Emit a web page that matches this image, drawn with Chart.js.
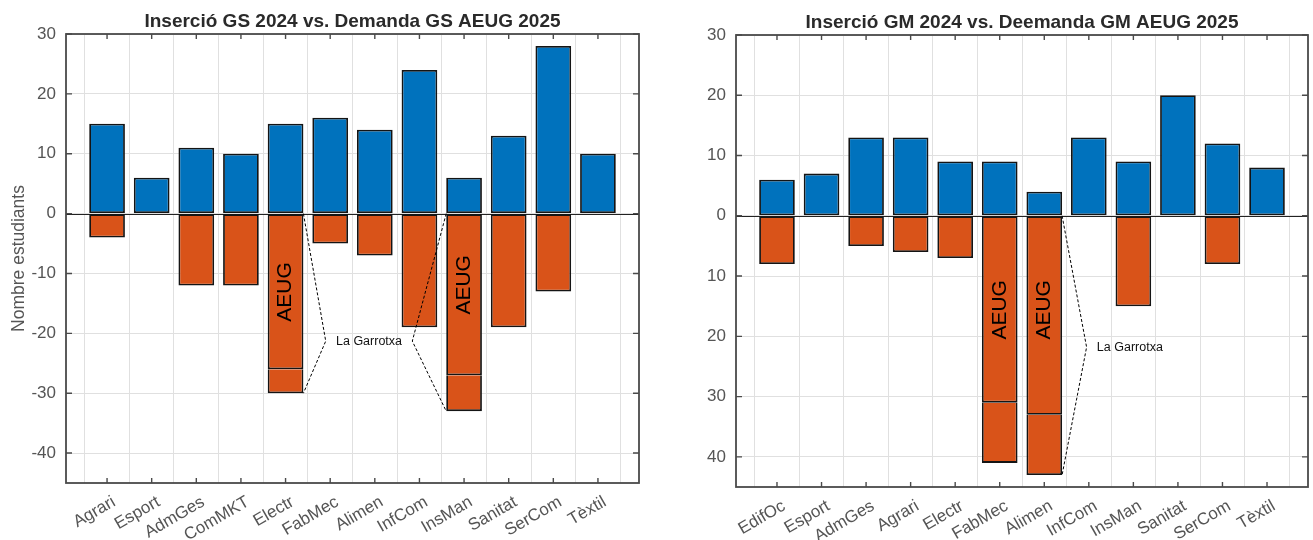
<!DOCTYPE html>
<html><head><meta charset="utf-8">
<script src="https://cdn.jsdelivr.net/npm/chart.js@4.4.1/dist/chart.umd.min.js"></script>
<style>
html,body{margin:0;padding:0;background:#fff;width:1313px;height:540px;overflow:hidden}
.box{position:absolute;top:0;height:540px}
#b1{left:0;width:660px}
#b2{left:660px;width:653px}
</style></head><body>
<div class="box" id="b1"><canvas id="c1"></canvas></div>
<div class="box" id="b2"><canvas id="c2"></canvas></div>
<script>
// ---- Data: GS (left chart)
const categoriesGS = ['Agrari','Esport','AdmGes','ComMKT','Electr','FabMec','Alimen','InfCom','InsMan','Sanitat','SerCom','Tèxtil'];
const insercioGS   = [15, 6, 11, 10, 15, 16, 14, 24, 6, 13, 28, 10];
const demandaGS    = [-4, 0, -12, -12, -30, -5, -7, -19, -33, -19, -13, 0];
const aeugGS       = [null, null, null, null, -26, null, null, null, -27, null, null, null];

// ---- Data: GM (right chart)
const categoriesGM = ['EdifOc','Esport','AdmGes','Agrari','Electr','FabMec','Alimen','InfCom','InsMan','Sanitat','SerCom','Tèxtil'];
const insercioGM   = [6, 7, 13, 13, 9, 9, 4, 13, 9, 20, 12, 8];
const demandaGM    = [-8, 0, -5, -6, -7, -41, -43, 0, -15, 0, -8, 0];
const aeugGM       = [null, null, null, null, null, -31, -33, null, null, null, null, null];

const yTickValues = [-40, -30, -20, -10, 0, 10, 20, 30];

const FONT = '"Liberation Sans", Arial, sans-serif';
const BLUE = '#0072BD', ORANGE = '#D95319', EDGE = '#141414';
const FRAME = '#4a4a4a', GRID = '#e0e0e0', TXT = '#555555';

function buildChart(id, o) {
  const W = o.width, H = 540;
  const toPts = arr => arr.map((v, i) => ({x: i + 1, y: (v === 0 || v === null) ? null : v}));
  const seg1 = o.dem.map((v, i) => o.aeug[i] != null ? o.aeug[i] : v);
  const seg2 = o.dem.map((v, i) => o.aeug[i] != null ? v - o.aeug[i] : null);

  const deco = {
    id: 'deco' + id,
    beforeDatasetsDraw(chart) {
      const {ctx, chartArea: a, scales: {y}} = chart;
      ctx.save();
      ctx.strokeStyle = '#222'; ctx.lineWidth = 1.2;
      const y0 = Math.round(y.getPixelForValue(0)) + 0.5;
      ctx.beginPath(); ctx.moveTo(a.left, y0); ctx.lineTo(a.right, y0); ctx.stroke();
      ctx.restore();
    },
    afterDraw(chart) {
      const {ctx, chartArea: a, scales: {x, y}} = chart;
      ctx.save();
      // frame
      ctx.strokeStyle = FRAME; ctx.lineWidth = 1.8;
      ctx.strokeRect(a.left, a.top, a.right - a.left, a.bottom - a.top);
      // inward ticks
      ctx.lineWidth = 1.4;
      x.ticks.forEach(t => {
        const px = x.getPixelForValue(t.value);
        ctx.beginPath();
        ctx.moveTo(px, a.bottom); ctx.lineTo(px, a.bottom - 5);
        ctx.moveTo(px, a.top); ctx.lineTo(px, a.top + 5);
        ctx.stroke();
      });
      y.ticks.forEach(t => {
        const py = y.getPixelForValue(t.value);
        ctx.beginPath();
        ctx.moveTo(a.left, py); ctx.lineTo(a.left + 6, py);
        ctx.moveTo(a.right, py); ctx.lineTo(a.right - 6, py);
        ctx.stroke();
      });
      // title
      ctx.fillStyle = '#2a2a2a';
      ctx.font = 'bold 19px ' + FONT;
      ctx.textAlign = 'center'; ctx.textBaseline = 'alphabetic';
      ctx.fillText(o.title, (a.left + a.right) / 2, o.titleY);
      // y label
      if (o.ylabel) {
        ctx.save();
        ctx.translate(19, (a.top + a.bottom) / 2);
        ctx.rotate(-Math.PI / 2);
        ctx.font = '17.5px ' + FONT; ctx.fillStyle = TXT;
        ctx.textAlign = 'center'; ctx.textBaseline = 'middle';
        ctx.fillText(o.ylabel, 0, 0);
        ctx.restore();
      }
      // AEUG labels inside bars
      const meta = chart.getDatasetMeta(1);
      ctx.fillStyle = '#000';
      ctx.font = '21px ' + FONT;
      o.aeugText.forEach(t => {
        const bar = meta.data[t.index];
        ctx.save();
        ctx.translate(bar.x, y.getPixelForValue(t.y));
        ctx.rotate(-Math.PI / 2);
        ctx.textAlign = 'center'; ctx.textBaseline = 'middle';
        ctx.fillText('AEUG', 0, 0);
        ctx.restore();
      });
      // La Garrotxa brackets
      ctx.strokeStyle = '#000'; ctx.lineWidth = 1; ctx.setLineDash([3, 2]);
      o.brackets.forEach(b => {
        const bar = meta.data[b.index];
        const ex = b.side === 'right' ? bar.x + bar.width / 2 : bar.x - bar.width / 2;
        ctx.beginPath();
        ctx.moveTo(ex, y.getPixelForValue(0));
        ctx.lineTo(x.getPixelForValue(b.apexX), y.getPixelForValue(b.apexY));
        ctx.lineTo(ex, y.getPixelForValue(o.dem[b.index]));
        ctx.stroke();
      });
      ctx.setLineDash([]);
      ctx.font = '12.5px ' + FONT; ctx.fillStyle = '#111';
      ctx.textAlign = o.label.align; ctx.textBaseline = 'middle';
      ctx.fillText('La Garrotxa', x.getPixelForValue(o.label.x), y.getPixelForValue(o.label.y));
      ctx.restore();
    }
  };

  return new Chart(document.getElementById(id), {
    type: 'bar',
    data: {
      datasets: [
        {label: 'Inserció', data: toPts(o.ins), backgroundColor: BLUE},
        {label: 'Demanda', data: toPts(seg1), backgroundColor: ORANGE},
        {label: 'La Garrotxa', data: toPts(seg2), backgroundColor: ORANGE, borderSkipped: 'start'}
      ]
    },
    options: {
      responsive: true, maintainAspectRatio: false, animation: false,
      layout: {padding: {top: o.area.top, right: W - o.area.right, left: 0, bottom: 0}},
      datasets: {bar: {borderColor: EDGE, borderWidth: 1.8, borderSkipped: false,
                        barPercentage: 0.8, categoryPercentage: 1.0}},
      plugins: {legend: {display: false}, tooltip: {enabled: false}},
      scales: {
        x: {
          type: 'linear', stacked: true, min: 0.08, max: 12.92, offset: false,
          afterBuildTicks: s => { s.ticks = o.cats.map((_, i) => ({value: i + 1})); },
          afterFit: s => { s.height = H - o.area.bottom; },
          grid: {color: GRID, lineWidth: 1, drawTicks: false},
          border: {display: false},
          ticks: {
            autoSkip: false, maxRotation: 30, minRotation: 30, padding: 9, labelOffset: 7,
            color: TXT, font: {family: FONT, size: 17},
            callback: v => o.cats[v - 1]
          }
        },
        y: {
          stacked: true, min: -45, max: 30,
          afterBuildTicks: s => { s.ticks = yTickValues.map(v => ({value: v})); },
          afterFit: s => { s.width = o.area.left; },
          grid: {color: GRID, lineWidth: 1, drawTicks: false},
          border: {display: false},
          ticks: {
            padding: 10, color: TXT, font: {family: FONT, size: 17},
            callback: v => o.absLabels ? String(Math.abs(v)) : String(v)
          }
        }
      }
    },
    plugins: [deco]
  });
}

buildChart('c1', {
  width: 660, cats: categoriesGS, ins: insercioGS, dem: demandaGS, aeug: aeugGS,
  title: 'Inserció GS 2024 vs. Demanda GS AEUG 2025', titleY: 27,
  ylabel: 'Nombre estudiants', absLabels: false,
  area: {left: 66, top: 34, right: 639, bottom: 483},
  aeugText: [{index: 4, y: -13.1}, {index: 8, y: -11.9}],
  brackets: [{index: 4, side: 'right', apexX: 5.9, apexY: -21.3},
             {index: 8, side: 'left', apexX: 7.84, apexY: -21.3}],
  label: {x: 6.87, y: -21.3, align: 'center'}
});

buildChart('c2', {
  width: 653, cats: categoriesGM, ins: insercioGM, dem: demandaGM, aeug: aeugGM,
  title: 'Inserció GM 2024 vs. Deemanda GM AEUG 2025', titleY: 28,
  ylabel: null, absLabels: true,
  area: {left: 76, top: 35, right: 648, bottom: 487},
  aeugText: [{index: 5, y: -15.6}, {index: 6, y: -15.6}],
  brackets: [{index: 6, side: 'right', apexX: 7.95, apexY: -21.8}],
  label: {x: 8.18, y: -21.8, align: 'left'}
});
</script>
</body></html>
